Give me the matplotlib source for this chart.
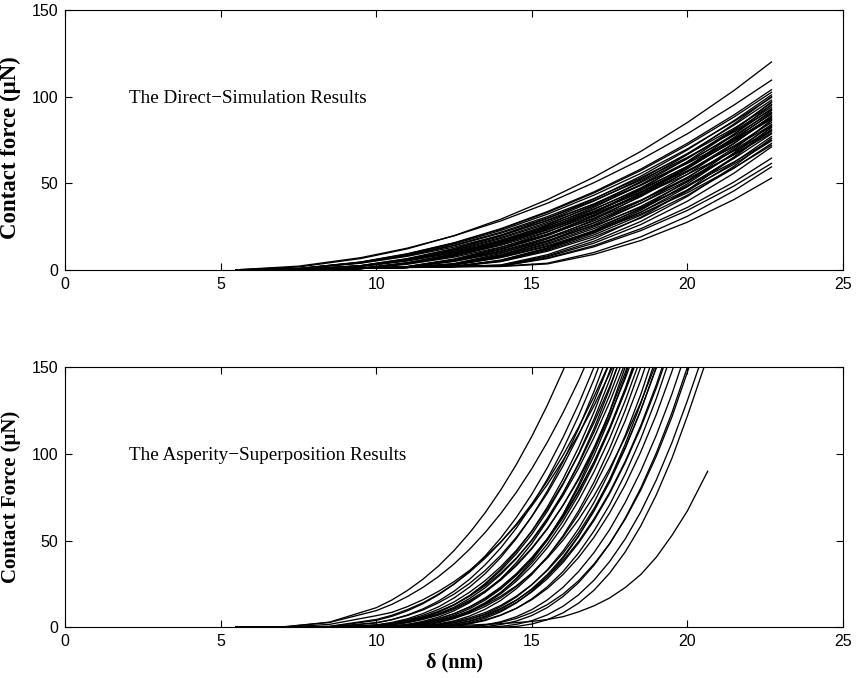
import matplotlib
matplotlib.use("Agg")
import matplotlib.pyplot as plt

# penetration grid (nm) for the direct-simulation curves
top_delta = [5.5, 7.5, 9.5, 11, 12.5, 14, 15.5, 17, 18.5, 20, 21.5, 22.7]

# contact force (uN) of each direct-simulation run
top_force = [
    [0.1, 1.7, 6.6, 12.2, 19.8, 29.3, 40.6, 53.6, 68.4, 85.1, 103.6, 120],
    [0.1, 2.2, 7.1, 12.6, 19.7, 28.3, 38.5, 50.4, 63.7, 78.6, 95.2, 109.5],
    [0, 0.8, 4.6, 9.4, 15.7, 23.8, 33.7, 45.1, 58.2, 73.1, 89.5, 104],
    [0, 0.8, 4.5, 9.2, 15.5, 23.5, 33.2, 44.5, 57.4, 72.1, 88.3, 102.5],
    [0, 0.3, 2.5, 6.6, 12.4, 20.1, 29.6, 41.0, 54.1, 69.3, 86.2, 101],
    [0, 0.3, 1.0, 4.2, 9.4, 16.7, 26.0, 37.5, 51.0, 66.6, 84.3, 100],
    [0, 0.8, 4.4, 9.0, 15.0, 22.8, 32.2, 43.2, 55.7, 69.9, 85.7, 99.5],
    [0, 0.3, 2.5, 6.4, 12.1, 19.5, 28.7, 39.8, 52.5, 67.2, 83.6, 98],
    [0, 0.3, 0.9, 2.0, 6.3, 12.9, 21.8, 33.1, 46.7, 62.6, 80.7, 97],
    [0, 0.3, 1.0, 4.1, 9.1, 16.1, 25.1, 36.2, 49.2, 64.3, 81.3, 96.5],
    [0, 0.3, 0.9, 1.5, 3.7, 9.5, 18.0, 29.0, 42.8, 59.2, 78.3, 95.5],
    [0, 0.8, 4.2, 8.6, 14.3, 21.8, 30.8, 41.2, 53.2, 66.8, 81.8, 95],
    [0, 0.3, 2.4, 6.1, 11.6, 18.7, 27.5, 38.2, 50.4, 64.5, 80.2, 94],
    [0, 0.3, 0.9, 3.9, 8.7, 15.5, 24.2, 34.9, 47.4, 61.9, 78.4, 93],
    [0, 0.7, 4.1, 8.3, 14.0, 21.2, 30.0, 40.1, 51.8, 65.0, 79.6, 92.5],
    [0, 0.3, 0.9, 1.9, 6.0, 12.2, 20.7, 31.4, 44.3, 59.3, 76.5, 92],
    [0, 0.3, 2.3, 5.9, 11.2, 18.1, 26.7, 36.9, 48.8, 62.4, 77.6, 91],
    [0, 0.3, 0.9, 1.9, 5.9, 12.0, 20.4, 30.9, 43.5, 58.4, 75.3, 90.5],
    [0, 0.3, 0.9, 3.8, 8.5, 15.0, 23.4, 33.8, 45.9, 59.9, 75.9, 90],
    [0, 0.3, 0.9, 1.5, 3.5, 8.8, 16.7, 27.1, 39.9, 55.2, 73.0, 89],
    [0, 0.3, 0.9, 3.7, 8.3, 14.8, 23.0, 33.2, 45.1, 58.9, 74.6, 88.5],
    [0, 0.3, 0.9, 1.8, 5.7, 11.7, 19.8, 30.0, 42.3, 56.8, 73.2, 88],
    [0, 0.7, 3.9, 7.9, 13.2, 20.0, 28.4, 38.0, 49.0, 61.5, 75.3, 87.5],
    [0, 0.3, 2.2, 5.7, 10.7, 17.3, 25.5, 35.3, 46.6, 59.7, 74.2, 87],
    [0, 0.3, 0.9, 1.5, 2.0, 5.7, 12.8, 22.8, 35.6, 51.2, 69.6, 86.5],
    [0, 0.3, 0.9, 1.5, 3.4, 8.5, 16.2, 26.1, 38.5, 53.3, 70.5, 86],
    [0, 0.3, 0.9, 3.6, 8.0, 14.2, 22.1, 31.9, 43.4, 56.6, 71.7, 85],
    [0, 0.3, 0.9, 1.5, 2.0, 5.5, 12.4, 22.1, 34.5, 49.7, 67.6, 84],
    [0, 0.3, 2.1, 5.4, 10.3, 16.6, 24.5, 33.9, 44.8, 57.3, 71.2, 83.5],
    [0, 0.3, 0.9, 1.7, 5.4, 11.0, 18.7, 28.3, 39.9, 53.5, 69.1, 83],
    [0, 0.3, 0.9, 1.5, 2.0, 2.9, 8.8, 18.0, 30.4, 46.1, 65.0, 82.5],
    [0, 0.3, 0.9, 1.5, 3.2, 8.1, 15.4, 24.9, 36.7, 50.8, 67.2, 82],
    [0, 0.3, 0.9, 1.5, 2.0, 5.3, 12.0, 21.3, 33.3, 48.0, 65.2, 81],
    [0, 0.3, 2.0, 5.2, 9.9, 16.0, 23.6, 32.7, 43.1, 55.2, 68.7, 80.5],
    [0, 0.3, 0.9, 1.7, 5.2, 10.6, 18.0, 27.3, 38.5, 51.6, 66.6, 80],
    [0, 0.3, 0.9, 3.3, 7.4, 13.2, 20.5, 29.6, 40.3, 52.6, 66.6, 79],
    [0, 0.3, 0.9, 1.5, 3.1, 7.8, 14.8, 23.9, 35.2, 48.7, 64.4, 78.5],
    [0, 0.3, 0.9, 1.5, 2.0, 5.1, 11.4, 20.3, 31.6, 45.6, 62.0, 77],
    [0, 0.3, 0.9, 1.5, 2.0, 2.7, 8.1, 16.6, 28.0, 42.5, 59.9, 76],
    [0, 0.3, 0.9, 1.6, 4.9, 10.0, 16.9, 25.6, 36.1, 48.4, 62.4, 75],
    [0, 0.3, 0.9, 1.5, 2.9, 7.4, 14.0, 22.6, 33.4, 46.2, 61.1, 74.5],
    [0, 0.3, 0.9, 1.5, 2.0, 4.8, 10.8, 19.2, 30.0, 43.2, 58.8, 73],
    [0, 0.3, 0.9, 1.5, 2.8, 7.1, 13.5, 21.9, 32.3, 44.6, 59.0, 72],
    [0, 0.3, 0.9, 1.5, 2.0, 2.5, 7.6, 15.5, 26.2, 39.7, 55.9, 71],
    [0, 0.3, 0.9, 1.5, 2.0, 2.3, 6.9, 14.1, 23.8, 36.1, 50.8, 64.5],
    [0, 0.3, 0.9, 1.5, 2.0, 2.2, 6.6, 13.4, 22.7, 34.4, 48.5, 61.5],
    [0, 0.3, 0.9, 1.5, 2.0, 2.2, 3.9, 10.1, 19.1, 31.0, 45.7, 59.5],
    [0, 0.3, 0.9, 1.4, 1.8, 2.0, 3.5, 9.0, 17.0, 27.6, 40.7, 53],
]

# penetration grid (nm) for the asperity-superposition curves
bot_delta = [5.5, 7, 8.5, 10, 10.5, 11, 11.5, 12, 12.5, 13, 13.5, 14, 14.5,
             15, 15.5, 16, 16.5, 17, 17.5, 18, 18.5, 19, 19.5, 20, 20.65]

# contact force (uN); each run is listed until it leaves the 150 uN frame
bot_force = [
    [0, 0.2, 3.1, 11.4, 15.8, 21.3, 27.8, 35.4, 44.3, 54.5, 66.1, 79.2, 93.8,
     110.1, 128.1, 147.9, 169.7],
    [0, 0.4, 2.9, 9.7, 13.3, 17.8, 23.1, 29.3, 36.6, 45.1, 54.7, 65.6, 77.8,
     91.5, 106.8, 123.6, 142.0, 162.5],
    [0, 0, 0.7, 4.6, 7.0, 10.3, 14.2, 19.2, 25.0, 31.9, 39.9, 49.1, 59.5,
     71.3, 84.4, 99.1, 115.3, 133.1, 152.7],
    [0, 0.1, 1.8, 6.8, 8.7, 12.0, 16.0, 20.8, 26.4, 32.9, 40.6, 49.2, 59.0,
     70.0, 82.4, 96.2, 111.2, 127.8, 146.3, 165.0],
    [0, 0, 0.5, 4.1, 6.4, 9.6, 13.7, 18.8, 25.0, 32.4, 41.2, 51.5, 63.3,
     76.8, 92.1, 109.4, 128.6, 150.0, 173.6],
    [0, 0, 0.2, 2.6, 4.5, 7.2, 10.7, 15.2, 20.9, 27.8, 36.1, 45.8, 57.2,
     70.4, 85.5, 102.6, 121.8, 143.0, 166.8],
    [0, 0, 0, 1.5, 2.9, 5.0, 8.0, 11.9, 17.0, 23.3, 31.0, 40.3, 51.2,
     64.0, 78.7, 95.4, 114.5, 136.1, 159.9],
    [0, 0, 0.3, 2.8, 4.5, 6.9, 10.1, 14.2, 19.2, 25.4, 32.8, 41.6, 51.9,
     63.9, 77.4, 93.0, 110.6, 130.3, 152.4],
    [0, 0, 0, 0.7, 1.6, 3.2, 5.5, 8.7, 13.0, 18.4, 25.3, 33.7, 43.7,
     55.6, 69.4, 85.4, 103.6, 124.2, 147.5, 173.6],
    [0, 0, 0, 1.3, 2.5, 4.4, 7.0, 10.4, 14.7, 20.3, 27.0, 35.0, 44.4,
     55.5, 68.3, 82.9, 99.5, 118.1, 138.7, 161.8],
    [0, 0, 0, 1.0, 2.0, 3.6, 5.9, 9.0, 13.1, 18.3, 24.8, 32.8, 42.4,
     53.7, 67.0, 82.3, 99.9, 120.0, 142.7, 168.0],
    [0, 0, 0, 0.2, 0.8, 1.8, 3.5, 6.0, 9.6, 14.3, 20.4, 28.0, 37.3,
     48.4, 61.5, 76.8, 94.5, 114.6, 137.5, 163.2],
    [0, 0, 0, 0.6, 1.5, 2.9, 5.0, 7.9, 11.7, 16.7, 22.9, 30.5, 39.6,
     50.4, 63.0, 77.4, 93.9, 112.7, 133.8, 157.3],
    [0, 0, 0.1, 1.3, 2.4, 4.1, 6.3, 9.3, 13.1, 18.0, 24.0, 31.3, 40.0,
     50.2, 62.1, 75.9, 91.6, 109.5, 129.7, 152.4],
    [0, 0, 0.1, 1.3, 2.0, 3.1, 5.0, 7.6, 11.1, 15.6, 21.1, 27.9, 36.1,
     45.8, 57.1, 70.3, 85.1, 102.3, 121.7, 143.3, 167.6],
    [0, 0, 0, 0.7, 1.5, 2.8, 4.6, 7.1, 10.5, 14.9, 20.4, 27.3, 35.5,
     45.3, 56.8, 70.3, 85.9, 103.7, 123.9, 146.8, 172.0],
    [0, 0, 0, 0, 0.1, 0.4, 1.2, 2.7, 5.1, 8.7, 13.6, 20.1, 28.3,
     38.4, 50.6, 65.1, 82.2, 101.9, 124.4, 150.0, 178.8],
    [0, 0, 0, 0.1, 0.4, 1.2, 2.4, 4.3, 7.0, 10.8, 15.8, 22.1, 30.0,
     39.6, 51.1, 64.8, 80.8, 99.3, 120.5, 144.8, 172.1],
    [0, 0, 0, 0.2, 0.6, 1.5, 2.9, 5.0, 8.0, 11.9, 17.0, 23.3, 31.0,
     40.3, 51.2, 64.0, 78.7, 95.4, 114.5, 136.1, 159.9],
    [0, 0, 0, 0.3, 0.8, 1.7, 3.1, 5.1, 7.9, 11.7, 16.6, 22.7, 30.3,
     39.4, 50.3, 63.1, 78.1, 95.4, 115.2, 137.7, 163.1],
    [0, 0, 0, 0, 0.2, 0.8, 1.8, 3.5, 6.1, 9.6, 14.3, 20.2, 27.8,
     37.1, 48.1, 61.2, 76.3, 93.9, 114.0, 136.6, 162.3],
    [0, 0, 0, 0, 0.2, 0.7, 1.7, 3.3, 5.7, 9.1, 13.6, 19.4, 26.6,
     35.4, 46.0, 58.4, 73.0, 89.8, 108.9, 130.7, 155.1],
    [0, 0, 0, 0, 0, 0.2, 0.8, 2.0, 3.8, 6.6, 10.5, 15.6, 22.3,
     30.5, 40.6, 52.8, 67.1, 83.8, 103.1, 125.1, 150.0, 178.1],
    [0, 0, 0, 0.1, 0.3, 0.8, 1.7, 3.2, 5.3, 8.2, 12.1, 17.1, 23.5,
     31.3, 40.7, 52.0, 65.3, 80.8, 98.7, 119.1, 142.5, 168.8],
    [0, 0, 0, 0.3, 0.6, 1.3, 2.4, 4.1, 6.3, 9.3, 13.1, 18.0, 24.0,
     31.3, 40.0, 50.2, 62.1, 75.9, 91.6, 109.5, 129.7, 152.4],
    [0, 0, 0, 0, 0, 0.1, 0.5, 1.3, 2.7, 4.8, 7.8, 12.0, 17.5,
     24.6, 33.3, 44.0, 56.9, 72.1, 90.0, 110.6, 134.2, 161.2],
    [0, 0, 0, 0, 0, 0, 0.1, 0.4, 1.2, 2.8, 5.3, 9.0, 14.1,
     20.8, 29.3, 39.8, 52.5, 67.5, 85.2, 105.6, 129.0, 155.6],
    [0, 0, 0, 0, 0, 0, 0.2, 0.8, 2.0, 3.8, 6.6, 10.5, 15.6,
     22.3, 30.5, 40.6, 52.8, 67.1, 83.8, 103.1, 125.1, 150.0, 178.1],
    [0, 0, 0, 0, 0.1, 0.3, 0.8, 1.8, 3.4, 5.6, 8.6, 12.7, 18.0,
     24.7, 32.9, 42.7, 54.6, 68.6, 84.8, 103.6, 125.1, 149.6, 177.2],
    [0, 0, 0, 0, 0, 0, 0.2, 0.7, 1.8, 3.5, 6.1, 9.7, 14.4,
     20.5, 28.1, 37.4, 48.6, 61.7, 77.1, 94.9, 115.1, 138.0, 163.9],
    [0, 0, 0, 0, 0.1, 0.3, 0.7, 1.5, 2.8, 4.7, 7.4, 11.0, 15.8,
     21.8, 29.3, 38.5, 49.5, 62.6, 77.9, 95.7, 116.3, 139.8, 166.4],
    [0, 0, 0, 0, 0, 0, 0, 0.3, 0.9, 2.1, 4.0, 7.0, 11.0,
     16.5, 23.5, 32.2, 42.9, 55.7, 70.7, 88.4, 108.7, 131.9, 158.3],
    [0, 0, 0, 0, 0, 0, 0.1, 0.5, 1.2, 2.4, 4.4, 7.2, 11.0,
     16.0, 22.5, 30.5, 40.3, 52.0, 66.0, 82.2, 101.1, 122.7, 147.4, 175.2],
    [0, 0, 0, 0, 0, 0, 0, 0, 0.1, 0.5, 1.5, 3.3, 6.2,
     10.3, 15.9, 23.1, 32.2, 43.2, 56.4, 72.0, 90.0, 110.8, 134.4, 161.0],
    [0, 0, 0, 0, 0, 0, 0, 0, 0, 0.1, 0.5, 1.7, 3.7,
     6.9, 11.5, 17.8, 25.8, 35.9, 48.2, 62.9, 80.3, 100.5, 123.6, 150.0, 186.1],
    [0, 0, 0, 0, 0, 0, 0, 0, 0.2, 0.6, 1.4, 2.9, 5.2,
     8.6, 13.2, 19.2, 26.9, 36.6, 48.3, 62.4, 79.1, 98.7, 121.2, 147.2, 183.1],
    [0, 0, 0, 0, 0, 0, 0, 0, 0, 0, 0.1, 0.6, 1.8,
     3.9, 7.3, 12.2, 18.8, 27.3, 38.0, 51.0, 66.6, 85.0, 106.4, 130.8, 164.7],
    [0, 0, 0, 0, 0, 0, 0, 0, 0, 0, 0, 0.1, 0.6,
     2.0, 4.5, 8.4, 14.0, 21.5, 31.3, 43.5, 58.5, 76.4, 97.4, 121.9, 156.1],
    [0, 0, 0, 0.2, 0.3, 0.4, 0.6, 0.8, 1.1, 1.4, 1.8, 2.2, 2.8,
     3.5, 4.6, 6.2, 9.0, 12.5, 17.0, 23.0, 30.5, 40.5, 53.0, 67.2, 90.0],
]

xticks = [0, 5, 10, 15, 20, 25]
yticks = [0, 50, 100, 150]

plt.rcParams['font.family'] = ['Liberation Sans', 'DejaVu Sans']
serif = ['Liberation Serif', 'DejaVu Serif']

fig = plt.figure(figsize=(8.58, 6.78), dpi=100)
ax1 = fig.add_axes([0.0758, 0.6018, 0.9068, 0.3835])
ax2 = fig.add_axes([0.0758, 0.0745, 0.9068, 0.3842])

for row in top_force:
    ax1.plot(top_delta[:len(row)], row, color='black', lw=0.95)
for row in bot_force:
    ax2.plot(bot_delta[:len(row)], row, color='black', lw=0.95)

for ax in (ax1, ax2):
    ax.set_xlim(0, 25)
    ax.set_ylim(0, 150)
    ax.set_xticks(xticks)
    ax.set_yticks(yticks)
    ax.tick_params(direction='in', top=True, right=True, length=5,
                   width=0.8, labelsize=11.5, pad=5)
    for sp in ax.spines.values():
        sp.set_linewidth(0.8)

ax1.set_ylabel('Contact force (μN)', family=serif, fontweight='bold',
               fontsize=16.5)
ax1.yaxis.set_label_coords(-0.057, 0.47)
ax2.set_ylabel('Contact Force (μN)', family=serif, fontweight='bold',
               fontsize=15)
ax2.yaxis.set_label_coords(-0.057, 0.5)
ax2.set_xlabel('δ (nm)', family=serif, fontweight='bold', fontsize=14.5,
               labelpad=2)

ax1.text(2.05, 99, 'The Direct\u2212Simulation Results', family=serif,
         fontsize=13.8, va='center', ha='left')
ax2.text(2.05, 99, 'The Asperity\u2212Superposition Results', family=serif,
         fontsize=13.8, va='center', ha='left')

fig.savefig('out.png', dpi=100)
